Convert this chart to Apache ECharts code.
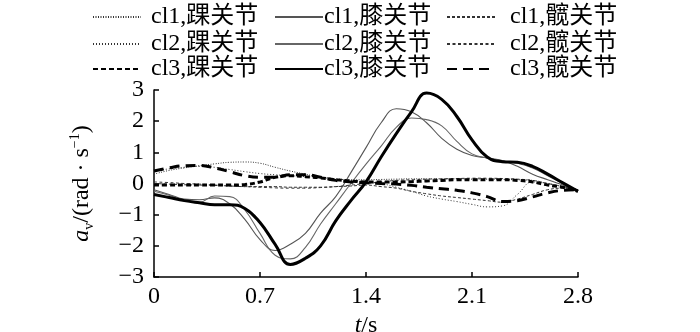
<!DOCTYPE html>
<html>
<head>
<meta charset="utf-8">
<script src="https://cdn.jsdelivr.net/npm/echarts@6/dist/echarts.min.js"></script>
<style>
  html, body { margin: 0; padding: 0; background: #fff; }
  #chart { width: 700px; height: 332px; }
</style>
</head>
<body>
<div id="chart"></div>
<script>
// Time samples (s)
const timeS = [0, 0.1, 0.2, 0.3, 0.4, 0.5, 0.6, 0.7, 0.8, 0.9, 1.0, 1.1, 1.2, 1.3, 1.4,
               1.5, 1.6, 1.7, 1.8, 1.9, 2.0, 2.1, 2.2, 2.3, 2.4, 2.5, 2.6, 2.7, 2.8];

// Angular acceleration per joint, rad/s^2
const cl1Ankle = [0.3, 0.42, 0.5, 0.57, 0.63, 0.68, 0.69, 0.65, 0.52, 0.4, 0.3, 0.2, 0.15, 0.12, 0.12,
                  0.13, 0.14, 0.15, 0.15, 0.15, 0.15, 0.14, 0.14, 0.13, 0.12, 0.1, 0.0, -0.1, -0.2];
const cl1Knee  = [-0.2, -0.35, -0.5, -0.52, -0.46, -0.65, -1.15, -1.8, -2.15, -1.95, -1.6, -0.95, -0.42, 0.35, 1.15,
                  1.95, 2.4, 2.3, 1.95, 1.45, 1.1, 0.9, 0.82, 0.74, 0.55, 0.3, 0.12, -0.05, -0.22];
const cl1Hip   = [0.0, -0.02, -0.04, -0.05, -0.06, -0.08, -0.1, -0.1, -0.1, -0.12, -0.12, -0.12, -0.1, -0.08, -0.05,
                  -0.1, -0.15, -0.25, -0.33, -0.4, -0.45, -0.5, -0.55, -0.6, -0.5, -0.35, -0.2, -0.15, -0.2];
const cl2Ankle = [0.4, 0.47, 0.52, 0.55, 0.52, 0.45, 0.38, 0.32, 0.28, 0.25, 0.22, 0.2, 0.15, 0.1, 0.05,
                  0.0, -0.12, -0.25, -0.4, -0.5, -0.58, -0.67, -0.75, -0.72, -0.35, 0.05, 0.0, -0.1, -0.2];
const cl2Knee  = [-0.25, -0.38, -0.55, -0.6, -0.4, -0.42, -0.85, -1.6, -2.3, -2.42, -2.05, -1.3, -0.65, 0.0, 0.62,
                  1.2, 1.8, 2.1, 2.05, 1.85, 1.35, 0.95, 0.82, 0.73, 0.65, 0.5, 0.25, 0.0, -0.22];
const cl2Hip   = [0.05, 0.03, 0.0, -0.02, -0.05, -0.08, -0.1, -0.12, -0.14, -0.15, -0.15, -0.13, -0.1, -0.05, 0.0,
                  0.05, 0.1, 0.12, 0.14, 0.15, 0.16, 0.17, 0.17, 0.16, 0.14, 0.1, 0.0, -0.1, -0.2];
const cl3Ankle = [-0.05, -0.05, -0.05, -0.05, -0.05, -0.05, -0.03, 0.05, 0.2, 0.25, 0.22, 0.18, 0.12, 0.08, 0.05,
                  0.05, 0.05, 0.06, 0.08, 0.1, 0.12, 0.12, 0.12, 0.12, 0.1, 0.05, -0.05, -0.12, -0.25];
const cl3Knee  = [-0.35, -0.45, -0.55, -0.62, -0.68, -0.68, -0.8, -1.25, -1.95, -2.6, -2.4, -2.0, -1.2, -0.55, 0.05,
                  0.85, 1.6, 2.3, 2.9, 2.7, 2.15, 1.4, 0.85, 0.7, 0.68, 0.55, 0.3, 0.02, -0.25];
const cl3Hip   = [0.4, 0.5, 0.57, 0.58, 0.5, 0.38, 0.25, 0.2, 0.2, 0.28, 0.28, 0.2, 0.1, 0.05, 0.02,
                  0.0, -0.02, -0.06, -0.12, -0.17, -0.22, -0.3, -0.42, -0.58, -0.55, -0.43, -0.3, -0.22, -0.2];

const seriesNames = ['cl1,踝关节', 'cl1,膝关节', 'cl1,髋关节',
                     'cl2,踝关节', 'cl2,膝关节', 'cl2,髋关节',
                     'cl3,踝关节', 'cl3,膝关节', 'cl3,髋关节'];
const seriesValues = [cl1Ankle, cl1Knee, cl1Hip, cl2Ankle, cl2Knee, cl2Hip, cl3Ankle, cl3Knee, cl3Hip];

const xTicks = { min: 0, max: 2.8, interval: 0.7 };
const yTicks = { min: -3, max: 3, interval: 1 };

const FONT = "'Times New Roman', 'Liberation Serif', 'Noto Sans CJK SC', serif";

const lineStyles = [
  { color: '#333', width: 1, type: [1, 1.5] },
  { color: '#555', width: 1.1, type: 'solid' },
  { color: '#333', width: 1, type: [3, 2] },
  { color: '#333', width: 1, type: [1, 2] },
  { color: '#666', width: 1.1, type: 'solid' },
  { color: '#333', width: 1, type: [3, 2.5] },
  { color: '#000', width: 3, type: [5, 3] },
  { color: '#000', width: 3, type: 'solid' },
  { color: '#000', width: 3, type: [10, 6] }
];

const series = seriesNames.map((name, i) => ({
  name: name,
  type: 'line',
  smooth: 0.45,
  symbol: 'none',
  data: timeS.map((t, k) => [t, seriesValues[i][k]]),
  lineStyle: lineStyles[i],
  itemStyle: { color: lineStyles[i].color },
  z: i >= 6 ? 3 : 2
}));

// Legend laid out as a 3x3 block; the gap before each column's text differs
const colLeft = [92, 274, 446];
const colTextPad = [5, -4, 10];
const rowTop = [5, 32, 57];
const legends = seriesNames.map((name, i) => ({
  data: [name],
  left: colLeft[i % 3],
  top: rowTop[Math.floor(i / 3)],
  itemWidth: 48,
  itemHeight: 14,
  itemGap: 0,
  padding: 0,
  selectedMode: false,
  itemStyle: { opacity: 0 },
  textStyle: { fontFamily: FONT, fontSize: 24, color: '#000', padding: [0, 0, 0, colTextPad[i % 3]] }
}));

const chart = echarts.init(document.getElementById('chart'), null, { renderer: 'canvas' });
chart.setOption({
  animation: false,
  backgroundColor: '#fff',
  legend: legends,
  grid: { left: 154, right: 122, top: 90, bottom: 55, outerBoundsMode: 'none' },
  xAxis: {
    type: 'value',
    min: xTicks.min, max: xTicks.max, interval: xTicks.interval,
    name: '{i|t}/s',
    nameLocation: 'middle',
    nameGap: 31,
    nameTextStyle: {
      fontFamily: FONT, fontSize: 24, color: '#000',
      rich: { i: { fontFamily: FONT, fontSize: 24, fontStyle: 'italic', color: '#000' } }
    },
    axisLine: { onZero: false, lineStyle: { color: '#000', width: 1.5 } },
    axisTick: { inside: true, length: 5, lineStyle: { color: '#000', width: 1.5 } },
    axisLabel: {
      fontFamily: FONT, fontSize: 24, color: '#000', margin: 8,
      formatter: v => (v === 0 ? '0' : v.toFixed(1))
    },
    splitLine: { show: false }
  },
  yAxis: {
    type: 'value',
    min: yTicks.min, max: yTicks.max, interval: yTicks.interval,
    name: '{i|a}{sub|v}/(rad · s{sup|−1})',
    nameLocation: 'middle',
    nameGap: 58,
    nameRotate: 90,
    nameTextStyle: {
      fontFamily: FONT, fontSize: 24, color: '#000', lineHeight: 28,
      rich: {
        i: { fontFamily: FONT, fontSize: 24, fontStyle: 'italic', color: '#000', lineHeight: 28 },
        sub: { fontFamily: FONT, fontSize: 14, color: '#000', verticalAlign: 'bottom', lineHeight: 28, padding: [11, 0, 0, 0] },
        sup: { fontFamily: FONT, fontSize: 14, color: '#000', verticalAlign: 'top', lineHeight: 28, padding: [0, 0, 11, 0] }
      }
    },
    axisLine: { show: true, onZero: false, lineStyle: { color: '#000', width: 1.5 } },
    axisTick: { show: true, inside: true, length: 5, lineStyle: { color: '#000', width: 1.5 } },
    axisLabel: {
      fontFamily: FONT, fontSize: 24, color: '#000', margin: 10,
      formatter: v => String(v).replace('-', '−')
    },
    splitLine: { show: false }
  },
  series: series
});
</script>
</body>
</html>
